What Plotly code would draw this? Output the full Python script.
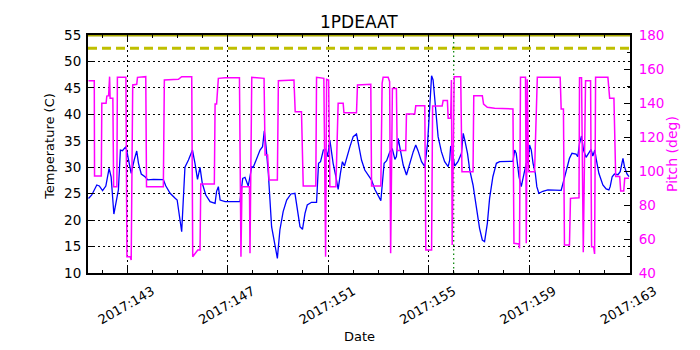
import plotly.graph_objects as go

# day-of-year 2017 for temperature trace
temp_day = [
    141.46, 141.59, 141.79, 141.89, 142.02, 142.15, 142.28, 142.36, 142.47, 142.60,
    142.65, 142.73, 142.81, 142.95, 143.01, 143.16, 143.28, 143.38, 143.45, 143.56,
    143.71, 143.82, 144.05, 144.44, 144.54, 144.71, 144.91, 144.99, 145.17, 145.30,
    145.44, 145.60, 145.70, 145.80, 145.90, 145.99, 146.13, 146.30, 146.50, 146.56,
    146.63, 146.70, 146.90, 147.49, 147.60, 147.69, 147.82, 147.89, 147.96, 148.02,
    148.15, 148.29, 148.39, 148.46, 148.53, 148.62, 148.75, 148.88, 148.98, 149.08,
    149.21, 149.35, 149.52, 149.68, 149.77, 149.88, 149.98, 150.08, 150.17, 150.34,
    150.54, 150.62, 150.70, 150.81, 150.91, 150.98, 151.07, 151.20, 151.31, 151.40,
    151.49, 151.57, 151.65, 151.73, 151.87, 152.00, 152.13, 152.20, 152.33, 152.46,
    152.60, 152.73, 152.86, 153.00, 153.10, 153.23, 153.33, 153.46, 153.56, 153.66,
    153.72, 153.79, 153.85, 153.99, 154.12, 154.25, 154.39, 154.49, 154.58, 154.72,
    154.85, 154.96, 155.05, 155.12, 155.18, 155.27, 155.38, 155.51, 155.64, 155.78,
    155.84, 155.88, 155.97, 156.04, 156.17, 156.31, 156.38, 156.44, 156.55, 156.64,
    156.77, 156.90, 157.03, 157.14, 157.23, 157.34, 157.43, 157.56, 157.63, 157.70,
    157.83, 158.03, 158.36, 158.43, 158.49, 158.60, 158.69, 158.83, 158.89, 158.96,
    159.02, 159.09, 159.16, 159.25, 159.31, 159.39, 159.55, 159.75, 160.08, 160.28,
    160.37, 160.48, 160.61, 160.71, 160.87, 160.94, 161.01, 161.09, 161.17, 161.27,
    161.38, 161.47, 161.54, 161.62, 161.67, 161.78, 161.94, 162.07, 162.18, 162.23,
    162.31, 162.40, 162.54, 162.63, 162.74, 162.80, 162.90, 162.98,
]
temp_c = [
    24.1, 24.75, 26.64, 26.45, 25.57, 26.45, 29.8, 28.2, 21.15, 25.07,
    25.7, 33.25, 33.13, 33.9, 32.3, 28.85, 31.4, 33.07, 30.74, 28.72,
    28.2, 27.6, 27.7, 27.65, 26.45, 25.07, 24.12, 23.8, 17.8, 30.0,
    31.36, 33.25, 30.74, 27.7, 29.98, 26.96, 24.75, 23.5, 23.18, 25.45,
    26.32, 23.8, 23.5, 23.5, 27.9, 28.1, 26.45, 28.2, 30.1, 29.98,
    31.68, 33.25, 33.89, 36.9, 33.89, 28.85, 18.76, 14.98, 12.77, 18.13,
    21.6, 23.8, 24.94, 25.07, 21.9, 18.76, 18.26, 21.28, 22.86, 23.37,
    23.37, 30.74, 31.05, 33.25, 33.39, 32.0, 35.15, 30.74, 28.2, 25.82,
    28.85, 31.05, 30.23, 31.68, 33.89, 35.78, 36.28, 34.6, 31.36, 29.47,
    28.53, 27.58, 25.82, 24.43, 23.68, 30.74, 31.24, 32.94, 33.39, 31.49,
    32.0, 35.47, 33.89, 30.42, 28.53, 30.74, 32.94, 34.2, 33.13, 31.05,
    30.1, 34.52, 42.09, 47.31, 46.49, 40.82, 35.78, 32.94, 31.05, 30.1,
    31.36, 34.01, 32.3, 30.23, 31.05, 32.63, 36.41, 35.15, 32.63, 29.47,
    26.64, 22.54, 18.45, 16.24, 15.92, 19.39, 24.12, 28.2, 29.79, 30.74,
    31.05, 31.11, 31.11, 33.25, 32.63, 28.2, 26.32, 29.47, 30.74, 31.05,
    34.2, 33.25, 30.74, 28.85, 26.32, 25.07, 25.45, 25.7, 25.7, 25.64,
    27.27, 29.16, 31.68, 32.63, 32.5, 32.0, 34.52, 35.9, 33.25, 31.87,
    32.63, 33.39, 32.12, 33.25, 31.68, 28.85, 26.64, 25.89, 25.7, 26.32,
    28.2, 28.72, 28.59, 29.16, 31.68, 30.1, 28.72, 28.2,
]

pitch_day = [
    141.46, 141.69, 141.70, 141.97, 141.99, 142.16, 142.19, 142.26, 142.30, 142.32,
    142.43, 142.46, 142.59, 142.61, 142.95, 142.99, 143.12, 143.16, 143.22, 143.38,
    143.41, 143.74, 143.77, 144.44, 144.48, 145.04, 145.17, 145.57, 145.61, 145.70,
    145.81, 145.90, 145.93, 146.47, 146.50, 146.56, 146.63, 146.90, 147.47, 147.53,
    147.57, 147.87, 147.89, 147.96, 148.45, 148.49, 148.59, 148.65, 148.98, 149.02,
    149.64, 149.69, 149.94, 150.01, 150.51, 150.54, 150.83, 150.90, 150.94, 151.02,
    151.07, 151.31, 151.40, 151.60, 151.63, 152.13, 152.17, 152.70, 152.73, 153.10,
    153.15, 153.19, 153.39, 153.45, 153.49, 153.56, 153.72, 153.75, 154.09, 154.12,
    154.45, 154.49, 154.85, 154.89, 155.12, 155.16, 155.54, 155.58, 155.75, 155.78,
    155.88, 155.91, 155.94, 156.02, 156.28, 156.33, 156.77, 156.80, 157.14, 157.19,
    157.34, 157.63, 158.36, 158.40, 158.60, 158.62, 158.66, 158.86, 158.89, 158.93,
    158.98, 159.22, 159.29, 159.33, 160.24, 160.28, 160.37, 160.41, 160.61, 160.65,
    160.99, 161.01, 161.09, 161.16, 161.25, 161.45, 161.49, 161.57, 161.61, 161.65,
    162.14, 162.21, 162.38, 162.45, 162.61, 162.65, 162.77, 162.81, 162.98,
]
pitch_deg = [
    153.1, 153.1, 97.1, 97.1, 139.8, 139.8, 144.1, 144.3, 155.5, 142.75,
    142.75, 90.8, 90.8, 155.1, 155.1, 49.6, 49.6, 47.7, 150.6, 151.0,
    155.1, 155.5, 90.8, 90.8, 153.5, 153.9, 155.5, 155.5, 49.6, 51.6,
    53.5, 53.5, 92.4, 92.4, 139.4, 139.4, 154.5, 154.9, 154.9, 49.6,
    90.8, 90.8, 51.6, 155.1, 154.5, 109.4, 109.4, 94.7, 94.7, 153.1,
    153.5, 134.9, 134.9, 91.2, 91.2, 155.1, 154.5, 49.6, 153.9, 153.5,
    90.8, 90.8, 139.8, 139.8, 134.3, 134.3, 150.6, 151.0, 91.2, 91.2,
    151.6, 155.1, 155.1, 152.5, 51.6, 148.6, 148.6, 112.0, 112.0, 133.5,
    133.5, 138.4, 138.4, 53.5, 53.5, 138.2, 138.2, 141.4, 141.4, 131.0,
    131.0, 153.5, 56.5, 155.5, 155.5, 99.6, 99.6, 144.3, 144.3, 139.4,
    137.5, 136.9, 136.5, 57.5, 57.1, 54.5, 155.1, 155.1, 57.5, 153.9,
    99.6, 99.6, 132.0, 155.1, 155.1, 136.5, 136.5, 56.5, 56.5, 83.9,
    84.3, 154.9, 154.9, 52.2, 153.1, 153.1, 55.5, 55.5, 51.2, 155.1,
    155.1, 142.75, 142.75, 96.7, 96.7, 88.2, 88.2, 95.7, 95.7,
]

tick_days = [143, 147, 151, 155, 159, 163]
tick_labels = [f"2017:{d}" for d in tick_days]

x_range = [141.44, 163.02]
temp_range = [10, 55]
pitch_range = [40, 180]
planning_limit = 52.5
plot_top = 55
marker_day = 156.0

FONT = "DejaVu Sans"
DOTS = "1.5px,3.5px"

fig = go.Figure()

fig.add_trace(go.Scatter(
    x=temp_day, y=temp_c, mode="lines",
    line=dict(color="#0000ff", width=1.3),
    yaxis="y", showlegend=False,
))
fig.add_trace(go.Scatter(
    x=pitch_day, y=pitch_deg, mode="lines",
    line=dict(color="#ff00ff", width=1.5),
    yaxis="y2", showlegend=False,
))

# limit lines
fig.add_trace(go.Scatter(
    x=x_range, y=[planning_limit, planning_limit], mode="lines",
    line=dict(color="#bfbf00", width=3, dash="9px,5px"),
    yaxis="y", showlegend=False,
))
fig.add_trace(go.Scatter(
    x=x_range, y=[plot_top, plot_top], mode="lines",
    line=dict(color="#a8a800", width=3),
    yaxis="y", showlegend=False,
))
fig.add_trace(go.Scatter(
    x=[marker_day, marker_day], y=temp_range, mode="lines",
    line=dict(color="#008000", width=1.2, dash="1.5px,3px"),
    yaxis="y", showlegend=False,
))

# the page body adds an 8px offset, so margins are pulled in by 8px
fig.update_layout(
    width=700, height=350,
    margin=dict(l=80, r=78, t=27, b=85),
    paper_bgcolor="white", plot_bgcolor="white",
    font=dict(family=FONT, size=13, color="black"),
    xaxis=dict(
        range=x_range, tickvals=tick_days, ticktext=tick_labels, tickangle=-30,
        ticklabelshift=25, ticklabelstandoff=4,
        ticks="inside", ticklen=6, tickcolor="black",
        minor=dict(dtick=1, tick0=143, ticks="inside", ticklen=3, tickcolor="black"),
        showline=True, linecolor="black", linewidth=2, mirror="ticks",
        showgrid=True, gridcolor="black", griddash=DOTS, gridwidth=1,
        zeroline=False, automargin=False,
    ),
    yaxis=dict(
        range=temp_range, dtick=5, ticks="inside", ticklen=6, tickcolor="black",
        showline=True, linecolor="black", linewidth=2,
        showgrid=True, gridcolor="black", griddash=DOTS, gridwidth=1,
        zeroline=False, automargin=False, ticklabelstandoff=2,
        tickfont=dict(size=13.5),
    ),
    yaxis2=dict(
        range=pitch_range, dtick=20, overlaying="y", side="right",
        ticks="inside", ticklen=6, tickcolor="black",
        minor=dict(dtick=10, ticks="inside", ticklen=3, tickcolor="black"),
        showline=True, linecolor="black", linewidth=2,
        showgrid=False, zeroline=False, automargin=False,
        tickfont=dict(color="#ff00ff", size=13.5), ticklabelstandoff=4,
    ),
    annotations=[
        dict(text="1PDEAAT", x=0.5, y=1.0546, xref="paper", yref="paper",
             xanchor="center", yanchor="middle",
             showarrow=False, font=dict(size=17)),
        dict(text="Date", x=0.5, y=-0.265, xref="paper", yref="paper",
             xanchor="center", yanchor="middle",
             showarrow=False, font=dict(size=13)),
        dict(text="Temperature (C)", x=-0.0701, y=0.53, xref="paper", yref="paper",
             xanchor="center", yanchor="middle",
             showarrow=False, textangle=-90, font=dict(size=13)),
        dict(text="Pitch (deg)", x=1.0775, y=0.5, xref="paper", yref="paper",
             xanchor="center", yanchor="middle",
             showarrow=False, textangle=-90, font=dict(size=14, color="#ff00ff")),
    ],
)

fig.write_html("out.html")
